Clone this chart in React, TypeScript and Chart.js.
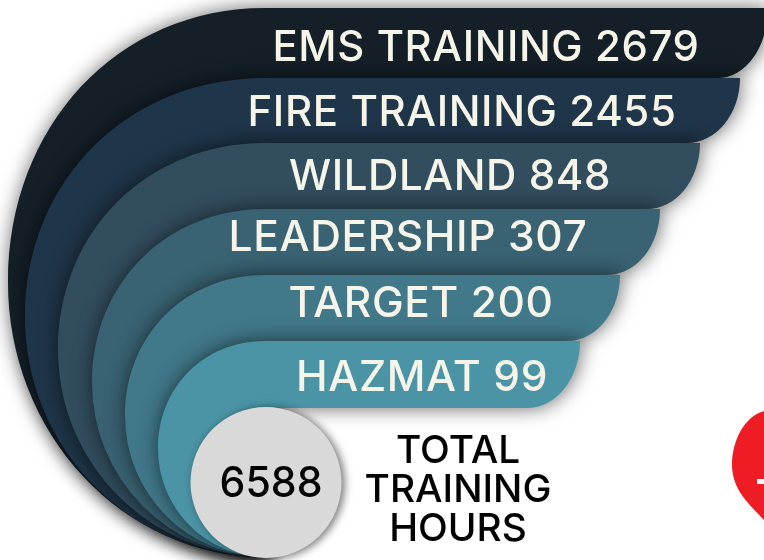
import React, { useEffect, useRef } from "react";
import { Chart, registerables, BarController, BarElement } from "chart.js";

// ---- data ----
const categories = ["EMS TRAINING", "FIRE TRAINING", "WILDLAND", "LEADERSHIP", "TARGET", "HAZMAT"];
const hours = [2679, 2455, 848, 307, 200, 99];
const totalHours = 6588;
const totalLabel = ["TOTAL", "TRAINING", "HOURS"];

// ---- layout (not data) ----
const W = 764;
const H = 560;
const ROW_START = 12;
const ROW_H = 66;
const RANK_MIN = -13.5; // x scale: one rank is one step of the staircase of band ends
const RANK_MAX = 5.6;
const ARC_CX = 265;
const ARC_TIP_Y = 557;
const ARC_KAPPA = 0.572;
const endTrim = [12, 0, 0, 0, 0, 0];
const endRx = [50, 53, 53, 53, 53, 53];
const topNudge = [-4, 0, -1, -1, -1, -1];
const arcLeft = [8, 25, 58, 92, 125, 158];
const bandColors = ["#141f27", "#1f3549", "#324d5e", "#396272", "#41788a", "#4a94a5"];
const labelCx = [486, 462, 450, 408, 421, 422];
const labelCy = [48, 113, 177, 238, 304, 378];
const labelW = [427, 429, 322, 362, 265, 252];
const FONT = '"Inter", "Open Sans", sans-serif';
const LABEL_COLOR = "#f6f5ea";

const ranks = hours.map((h) => [...hours].sort((a, b) => a - b).indexOf(h) + 1);
const rowCentre = (i: number) => ROW_START + ROW_H * (i + 0.5);
const pxToRank = (px: number) => RANK_MIN + (px / W) * (RANK_MAX - RANK_MIN);

class BandElement extends BarElement {
  static id = "band";
  static defaults = { ...(BarElement as any).defaults };
  draw(ctx: CanvasRenderingContext2D) {
    const self = this as any;
    const i = Math.round((self.y - ROW_START) / ROW_H - 0.5);
    const right = self.x - endTrim[i];
    const top = self.y - ROW_H / 2 + topNudge[i];
    const bottom = self.y + ROW_H / 2 + (i < 5 ? topNudge[i + 1] : 0);
    const rx = ARC_CX - arcLeft[i];
    const ry = (ARC_TIP_Y - top) / 2;
    const cy = top + ry;
    ctx.save();
    ctx.shadowColor = "rgba(0,0,0,0.6)";
    ctx.shadowBlur = 20;
    ctx.shadowOffsetX = 1;
    ctx.shadowOffsetY = 0;
    ctx.fillStyle = self.options.backgroundColor;
    ctx.beginPath();
    ctx.moveTo(right, top);
    ctx.ellipse(right - endRx[i], top, endRx[i], bottom - top, 0, 0, Math.PI / 2);
    ctx.lineTo(ARC_CX, bottom);
    ctx.lineTo(ARC_CX, ARC_TIP_Y);
    ctx.ellipse(ARC_CX, cy, rx, ry, 0, Math.PI / 2, Math.PI);
    ctx.bezierCurveTo(ARC_CX - rx, cy - ARC_KAPPA * ry, ARC_CX - ARC_KAPPA * rx, top, ARC_CX, top);
    ctx.closePath();
    ctx.fill();
    ctx.restore();
  }
}

class BandController extends (BarController as any) {
  static id = "band";
  static defaults = { ...(BarController as any).defaults, dataElementType: "band" };
  static overrides = (BarController as any).overrides;
}

const textPlugin = {
  id: "texts",
  beforeDatasetDraw(chart: any, args: any) {
    if (args.index === 0) {
      chart.ctx.save();
      chart.ctx.shadowColor = "rgba(0,0,0,0.55)";
      chart.ctx.shadowBlur = 9;
      chart.ctx.shadowOffsetX = 3;
      chart.ctx.shadowOffsetY = 1;
    }
  },
  afterDatasetDraw(chart: any, args: any) {
    if (args.index === 0) chart.ctx.restore();
  },
  afterDatasetsDraw(chart: any) {
    const ctx: any = chart.ctx;
    ctx.save();
    ctx.textAlign = "center";
    ctx.textBaseline = "middle";
    ctx.fillStyle = LABEL_COLOR;
    ctx.font = `500 42.5px ${FONT}`;
    ctx.letterSpacing = "0.6px";
    categories.forEach((c, i) => {
      ctx.fillText(`${c} ${hours[i]}`, labelCx[i], labelCy[i], labelW[i]);
    });
    ctx.letterSpacing = "0px";
    ctx.fillStyle = "#000";
    ctx.font = `500 42px ${FONT}`;
    const circle = chart.getDatasetMeta(0).data[0];
    ctx.fillText(String(totalHours), circle.x + 5, circle.y + 2, 103);
    ctx.font = `500 38.8px ${FONT}`;
    totalLabel.forEach((t, i) => ctx.fillText(t, 458, 450 + 39 * i + 1));

    // red badge running off the right edge
    ctx.fillStyle = "#ee1c25";
    ctx.beginPath();
    ctx.moveTo(764, 411);
    ctx.bezierCurveTo(745, 416, 732, 440, 732, 465);
    ctx.bezierCurveTo(732, 490, 750, 505, 764, 520);
    ctx.closePath();
    ctx.fill();
    ctx.fillStyle = "#fff";
    ctx.fillRect(757, 479, 7, 5);
    ctx.restore();
  },
};

Chart.register(...registerables, BandElement as any, BandController as any);

export default function App() {
  const ref = useRef<HTMLCanvasElement>(null);
  useEffect(() => {
    const chart = new Chart(ref.current!, {
      type: "band" as any,
      data: {
        datasets: [
          {
            type: "bubble" as any,
            label: "Total",
            data: [{ x: pxToRank(266), y: 482.5, r: 75.5 }],
            backgroundColor: "#d9d9d9",
            borderWidth: 0,
            clip: false,
          } as any,
          {
            type: "band" as any,
            label: "Training hours",
            indexAxis: "y",
            data: ranks.map((r, i) => ({ x: r, y: rowCentre(i) })),
            backgroundColor: bandColors,
            barPercentage: 1,
            categoryPercentage: 1,
            grouped: false,
            clip: false,
          } as any,
        ],
      },
      options: {
        indexAxis: "y",
        responsive: false,
        animation: false,
        events: [],
        layout: { padding: 0, autoPadding: false },
        plugins: { legend: { display: false }, tooltip: { enabled: false } },
        scales: {
          x: { type: "linear", min: RANK_MIN, max: RANK_MAX, offset: false, display: false, grid: { display: false } },
          y: { type: "linear", min: 0, max: H, reverse: true, offset: false, display: false, grid: { display: false } },
        },
      } as any,
      plugins: [textPlugin],
    });
    return () => chart.destroy();
  }, []);
  return (
    <div style={{ position: "fixed", left: 0, top: 0, width: W, height: H }}>
      <canvas ref={ref} width={W} height={H} style={{ display: "block" }} />
    </div>
  );
}
